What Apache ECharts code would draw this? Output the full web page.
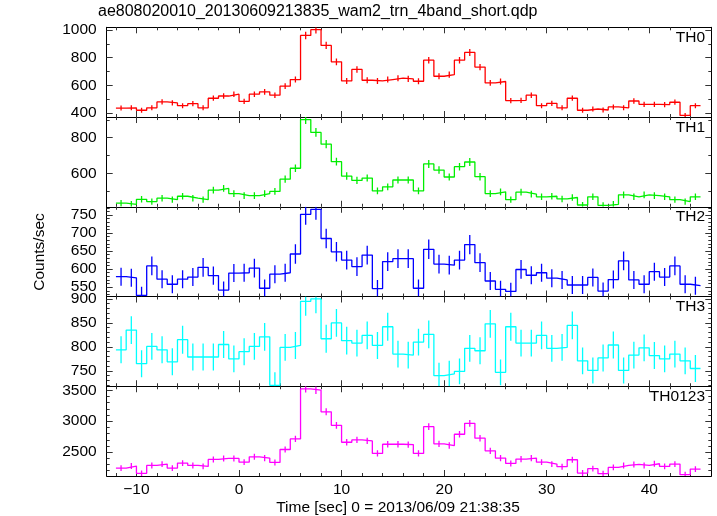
<!DOCTYPE html>
<html><head><meta charset="utf-8">
<script src="https://cdn.jsdelivr.net/npm/echarts@6/dist/echarts.min.js"></script>
<style>html,body{margin:0;padding:0;background:#fff}#c{width:717px;height:516px}</style>
</head><body><div id="c"></div>
<script>
// ---- data ----
const binTimes = [-11.5,-10.5,-9.5,-8.5,-7.5,-6.5,-5.5,-4.5,-3.5,-2.5,-1.5,-0.5,
  0.5,1.5,2.5,3.5,4.5,5.5,6.5,7.5,8.5,9.5,10.5,11.5,12.5,13.5,14.5,15.5,16.5,17.5,18.5,19.5,
  20.5,21.5,22.5,23.5,24.5,25.5,26.5,27.5,28.5,29.5,30.5,31.5,32.5,33.5,34.5,35.5,36.5,37.5,
  38.5,39.5,40.5,41.5,42.5,43.5,44.5];
const binHalfWidth = 0.5;

const th0 = [436,438,420,438,480,473,453,468,438,507,
  523,536,485,536,553,529,594,642,961,1003,
  889,770,632,715,637,632,642,652,647,630,
  782,666,678,782,838,732,618,628,490,492,
  529,453,470,438,507,420,429,422,444,438,
  487,463,463,461,478,383,453];
const th0Err = [18,18,18,18,19,19,18,19,18,19,
  20,20,19,20,20,20,21,22,27,27,
  26,24,22,23,22,22,22,22,22,22,
  24,22,22,24,25,23,21,22,19,19,
  20,18,19,18,19,18,18,18,18,18,
  19,19,19,19,19,17,18];

const th1 = [433,427,455,442,461,453,472,461,453,506,
  516,487,476,476,487,499,568,629,902,830,
  764,666,585,561,574,502,525,563,563,502,
  653,619,580,638,664,582,487,497,453,495,
  484,469,472,457,465,423,469,421,427,480,
  469,480,476,469,453,442,469];
const th1Err = [18,18,18,18,18,18,18,18,18,19,
  19,19,19,19,19,19,20,21,25,24,
  23,22,21,20,20,19,19,20,20,19,
  22,21,20,21,22,21,19,19,18,19,
  19,18,18,18,18,17,18,17,18,19,
  18,19,19,18,18,18,18];

const th2 = [579,576,527,609,572,558,572,578,605,582,
  542,589,590,603,547,586,590,642,752,766,
  685,648,625,607,639,546,621,629,629,547,
  655,614,611,625,668,618,567,544,538,599,
  583,590,575,570,556,556,577,539,571,623,
  570,558,593,578,609,558,554];
const th2Err = [25,25,24,26,25,25,25,25,26,25,
  24,25,25,26,24,25,25,27,29,29,
  27,27,26,26,26,24,26,26,26,24,
  27,26,26,26,27,26,25,24,24,26,
  25,25,25,25,25,25,25,24,25,26,
  25,25,25,25,26,25,25];

const th3 = [794,835,765,801,794,769,815,779,779,779,
  805,775,790,801,821,720,799,803,895,900,
  817,850,813,808,824,803,842,785,783,810,
  826,740,744,749,797,792,848,747,842,808,
  808,824,797,799,845,771,751,777,804,751,
  783,798,782,775,785,771,755];
const th3Err = [28,29,28,28,28,28,29,28,28,28,
  28,28,28,28,29,27,28,28,30,30,
  29,29,29,28,29,28,29,28,28,28,
  29,27,27,27,28,28,29,27,29,28,
  28,29,28,28,29,28,27,28,28,27,
  28,28,28,28,28,28,28];

const th0123 = [2243,2275,2158,2286,2307,2243,2323,2286,2270,2382,
  2398,2398,2339,2425,2404,2334,2543,2714,3521,3500,
  3152,2933,2660,2698,2682,2479,2628,2628,2623,2479,
  2912,2634,2607,2789,2965,2725,2521,2404,2318,2388,
  2404,2339,2307,2265,2377,2163,2233,2152,2254,2286,
  2302,2286,2313,2270,2307,2136,2227];
const th0123Err = [47,48,46,48,48,47,48,48,48,49,
  49,49,48,49,49,48,50,52,59,59,
  56,54,52,52,52,50,51,51,51,50,
  54,51,51,53,54,52,50,49,48,49,
  49,48,48,48,49,47,47,46,47,48,
  48,48,48,48,48,46,47];

const panelNames = ['TH0','TH1','TH2','TH3','TH0123'];
const panelValues = [th0, th1, th2, th3, th0123];
const panelErrors = [th0Err, th1Err, th2Err, th3Err, th0123Err];
const panelRanges = [[371,1020],[413,916],[524,773],[718,905],[2115,3564]];
const yMajorTicks = [[400,600,800,1000],[600,800],[550,600,650,700,750],[750,800,850,900],[2500,3000,3500]];
const yMinorTicks = [
  [400,500,600,700,800,900,1000],
  [500,600,700,800,900],
  [530,540,550,560,570,580,590,600,610,620,630,640,650,660,670,680,690,700,710,720,730,740,750,760,770],
  [720,730,740,750,760,770,780,790,800,810,820,830,840,850,860,870,880,890,900],
  [2200,2300,2400,2500,2600,2700,2800,2900,3000,3100,3200,3300,3400,3500]
];
const xRange = [-12.9, 46.05];
const xMajorTicks = [-10,0,10,20,30,40];
const xMinorTicks = [-12,-8,-6,-4,-2,2,4,6,8,12,14,16,18,22,24,26,28,32,34,36,38,42,44];
const titleText = 'ae808020010_20130609213835_wam2_trn_4band_short.qdp';
const xTitle = 'Time [sec] 0 = 2013/06/09 21:38:35';
const yTitle = 'Counts/sec';

// ---- styling / layout ----
const panelColors = ['#ff0000','#00ee00','#0000ff','#00ffff','#ff00ff'];
const FONT = '"Liberation Sans", Arial, Helvetica, sans-serif';
const gridLeft = 106.7, gridRight = 5.7, gridTop = 27.3, panelH = 89.74;
const tickColor = '#333';

const grids = [], xAxes = [], yAxes = [], series = [], graphics = [];
const labelStyle = {fontSize: 15.5, color: '#000', fontFamily: FONT};
const fmtNum = v => String(v).replace('-', '\u2212');

for (let i = 0; i < 5; i++) {
  const top = gridTop + i * panelH;
  grids.push({left: gridLeft, right: gridRight, top: top, height: panelH});
  const isLast = i === 4;
  const xb = {type: 'value', gridIndex: i, min: xRange[0], max: xRange[1], splitLine: {show: false}};
  const lineOn = {show: true, onZero: false, lineStyle: {color: '#000', width: 1}};
  const lineOff = {show: false, onZero: false};
  xAxes.push(Object.assign({}, xb, {position: 'bottom', axisLine: lineOn,
    axisTick: {show: true, inside: true, length: 6, customValues: xMajorTicks, lineStyle: {color: tickColor}},
    axisLabel: Object.assign({show: isLast, customValues: xMajorTicks, margin: 6, formatter: fmtNum}, labelStyle)}));
  xAxes.push(Object.assign({}, xb, {position: 'bottom', axisLine: lineOff,
    axisTick: {show: true, inside: true, length: 3, customValues: xMinorTicks, lineStyle: {color: tickColor}},
    axisLabel: {show: false}}));
  xAxes.push(Object.assign({}, xb, {position: 'top', axisLine: lineOn,
    axisTick: {show: true, inside: true, length: 6, customValues: xMajorTicks, lineStyle: {color: tickColor}},
    axisLabel: {show: false}}));
  xAxes.push(Object.assign({}, xb, {position: 'top', axisLine: lineOff,
    axisTick: {show: true, inside: true, length: 3, customValues: xMinorTicks, lineStyle: {color: tickColor}},
    axisLabel: {show: false}}));

  const yb = {type: 'value', gridIndex: i, min: panelRanges[i][0], max: panelRanges[i][1], splitLine: {show: false}};
  yAxes.push(Object.assign({}, yb, {position: 'left', axisLine: lineOn,
    axisTick: {show: true, inside: true, length: 6, customValues: yMajorTicks[i], lineStyle: {color: tickColor}},
    axisLabel: Object.assign({show: true, customValues: yMajorTicks[i], margin: 10, formatter: fmtNum}, labelStyle)}));
  yAxes.push(Object.assign({}, yb, {position: 'left', axisLine: lineOff,
    axisTick: {show: true, inside: true, length: 3, customValues: yMinorTicks[i], lineStyle: {color: tickColor}},
    axisLabel: {show: false}}));
  yAxes.push(Object.assign({}, yb, {position: 'right', axisLine: lineOn,
    axisTick: {show: true, inside: true, length: 6, customValues: yMajorTicks[i], lineStyle: {color: tickColor}},
    axisLabel: {show: false}}));
  yAxes.push(Object.assign({}, yb, {position: 'right', axisLine: lineOff,
    axisTick: {show: true, inside: true, length: 3, customValues: yMinorTicks[i], lineStyle: {color: tickColor}},
    axisLabel: {show: false}}));

  const vals = panelValues[i], errs = panelErrors[i], col = panelColors[i];
  const last = binTimes.length - 1;
  const hist = binTimes.map((t, k) => [t - binHalfWidth, vals[k]]);
  hist.push([binTimes[last] + binHalfWidth, vals[last]]);
  series.push({type: 'line', xAxisIndex: i * 4, yAxisIndex: i * 4, step: 'end', symbol: 'none',
    data: hist, lineStyle: {color: col, width: 1.3}, itemStyle: {color: col}, silent: true, clip: true, z: 3});
  series.push({type: 'custom', xAxisIndex: i * 4, yAxisIndex: i * 4, clip: true, silent: true, z: 3,
    itemStyle: {color: col},
    data: binTimes.map((t, k) => [t, vals[k], errs[k]]),
    renderItem: function (params, api) {
      const t = api.value(0), v = api.value(1), e = api.value(2);
      const cs = params.coordSys;
      const p1 = api.coord([t, v - e]), p2 = api.coord([t, v + e]);
      const yTop = cs.y, yBot = cs.y + cs.height;
      const y1 = Math.min(Math.max(p1[1], yTop), yBot), y2 = Math.min(Math.max(p2[1], yTop), yBot);
      return {type: 'line', shape: {x1: p1[0], y1: y1, x2: p2[0], y2: y2},
        style: {stroke: col, lineWidth: 1.3}};
    }});

  graphics.push({type: 'text', x: 705, y: top + 10.3, z: 10,
    style: {text: panelNames[i], align: 'right', verticalAlign: 'middle', fill: '#000', fontSize: 15.5, fontFamily: FONT}});
}

graphics.push({type: 'text', x: 98, y: 12, z: 10,
  style: {text: titleText, align: 'left', verticalAlign: 'middle', fill: '#000', fontSize: 16, fontFamily: FONT}});
graphics.push({type: 'text', x: 398, y: 508, z: 10,
  style: {text: xTitle, align: 'center', verticalAlign: 'middle', fill: '#000', fontSize: 15.5, fontFamily: FONT}});
graphics.push({type: 'text', x: 40, y: 252, rotation: Math.PI / 2, z: 10,
  style: {text: yTitle, align: 'center', verticalAlign: 'middle', fill: '#000', fontSize: 15.5, fontFamily: FONT}});

const chart = echarts.init(document.getElementById('c'), null, {renderer: 'canvas'});
chart.setOption({
  animation: false,
  backgroundColor: '#fff',
  grid: grids,
  xAxis: xAxes,
  yAxis: yAxes,
  series: series,
  graphic: graphics
});
</script>
</body></html>
